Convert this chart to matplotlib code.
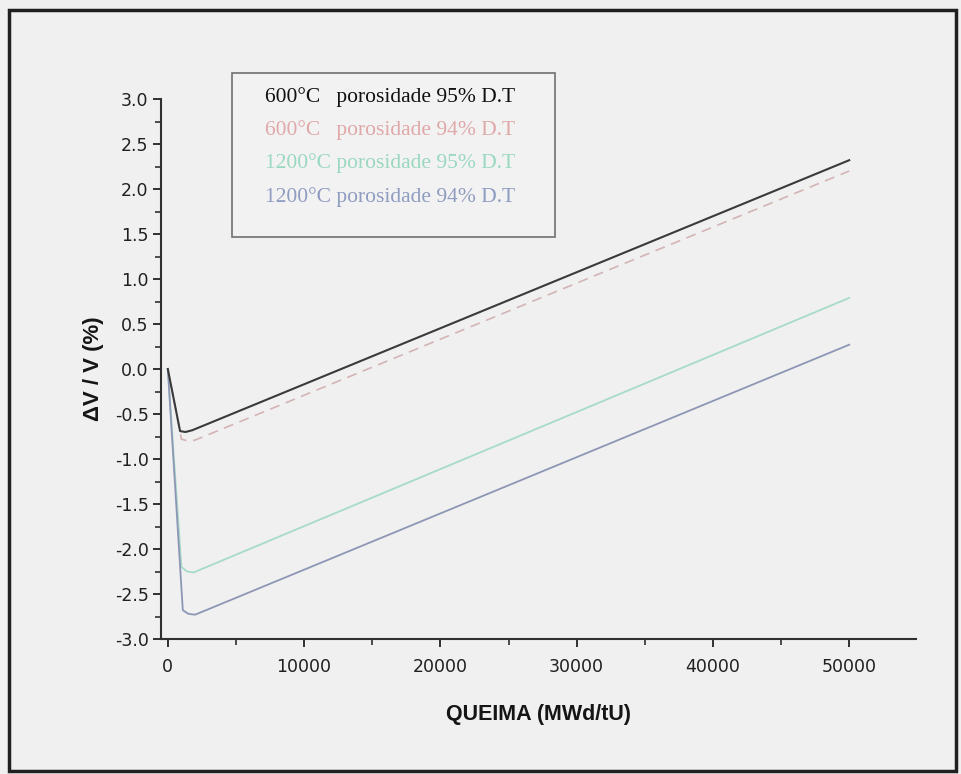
import matplotlib
matplotlib.use("Agg")
import matplotlib.pyplot as plt
from matplotlib.patches import Rectangle
from matplotlib.ticker import MultipleLocator

# ---- data ----
burnup_600_95 = [0, 900, 1300, 1800, 50000]
dv_600_95 = [0.0, -0.69, -0.70, -0.68, 2.32]

burnup_600_94 = [0, 1000, 1500, 2000, 50000]
dv_600_94 = [0.0, -0.78, -0.80, -0.79, 2.20]

burnup_1200_95 = [0, 1000, 1400, 1900, 50000]
dv_1200_95 = [0.0, -2.20, -2.25, -2.26, 0.79]

burnup_1200_94 = [0, 1100, 1500, 2000, 50000]
dv_1200_94 = [0.0, -2.68, -2.72, -2.73, 0.27]

legend_labels = [
    "600\u00b0C   porosidade 95% D.T",
    "600\u00b0C   porosidade 94% D.T",
    "1200\u00b0C porosidade 95% D.T",
    "1200\u00b0C porosidade 94% D.T",
]
x_ticks = [0, 10000, 20000, 30000, 40000, 50000]
y_ticks = [-3.0, -2.5, -2.0, -1.5, -1.0, -0.5, 0.0, 0.5, 1.0, 1.5, 2.0, 2.5, 3.0]

bg = "#f0f0f0"
W, H = 961, 774
fig = plt.figure(figsize=(W / 100, H / 100), dpi=100, facecolor=bg)

# outer frame
fig.patches.append(Rectangle((9 / W, 1 - 771 / H), (956 - 9) / W, (771 - 10) / H,
                             transform=fig.transFigure, fill=False,
                             edgecolor="#202020", linewidth=2.5))

ax = fig.add_axes([161 / W, 1 - 639 / H, (916 - 161) / W, (639 - 99) / H])
ax.set_facecolor(bg)

ax.plot(burnup_600_94, dv_600_94, color="#d4b4b4", lw=1.2, ls=(0, (6, 4)))
ax.plot(burnup_1200_95, dv_1200_95, color="#a6dcc6", lw=1.3)
ax.plot(burnup_1200_94, dv_1200_94, color="#8e96b6", lw=1.3)
ax.plot(burnup_600_95, dv_600_95, color="#3a3a3a", lw=1.5)

ax.set_xlim(-500, 54900)
ax.set_ylim(-3.0, 3.0)
ax.set_xticks(x_ticks)
ax.set_xticklabels([str(v) for v in x_ticks])
ax.xaxis.set_minor_locator(MultipleLocator(5000))
ax.set_yticks(y_ticks)
ax.set_yticklabels([f"{v:.1f}" for v in y_ticks])
ax.yaxis.set_minor_locator(MultipleLocator(0.25))

for s in ["top", "right"]:
    ax.spines[s].set_visible(False)
for s in ["left", "bottom"]:
    ax.spines[s].set_color("#303030")
    ax.spines[s].set_linewidth(1.5)

ax.tick_params(axis="both", which="major", direction="out", length=6, width=1.4,
               color="#303030", labelsize=12.5, labelcolor="#202020")
ax.tick_params(axis="x", which="major", pad=8)
ax.tick_params(axis="y", which="major", pad=3)
ax.tick_params(axis="both", which="minor", direction="out", length=4, width=1.2,
               color="#303030")
for lab in ax.get_xticklabels() + ax.get_yticklabels():
    lab.set_family("DejaVu Sans")

ax.set_xlabel("QUEIMA (MWd/tU)", fontsize=15.5, fontweight="bold",
              family="Liberation Sans", color="#151515", labelpad=20)
ax.set_ylabel("\u0394V / V (%)", fontsize=16, fontweight="bold",
              family="Liberation Sans", color="#151515", labelpad=8)

# legend box (text only, coloured like the series)
fig.patches.append(Rectangle((232 / W, 1 - 237 / H), (555 - 232) / W, (237 - 73) / H,
                             transform=fig.transFigure, facecolor="#f2f2f2",
                             edgecolor="#707070", linewidth=1.2, zorder=5))
leg_colors = ["#101010", "#e0a8a8", "#9ad8c0", "#8f9cc2"]
leg_y = [97, 130, 163, 197]
for lab, c, yy in zip(legend_labels, leg_colors, leg_y):
    fig.text(265 / W, 1 - yy / H, lab, color=c, fontsize=15.5,
             family="Liberation Serif", va="center", ha="left", zorder=6)

fig.savefig("out.png", dpi=100, facecolor=bg)
